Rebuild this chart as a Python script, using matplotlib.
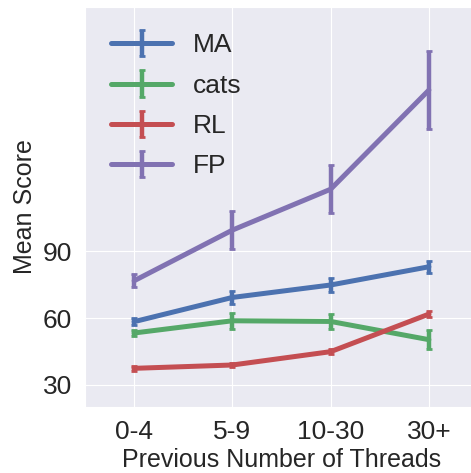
import matplotlib
matplotlib.use("Agg")
import matplotlib.pyplot as plt
import seaborn as sns

categories = ["0-4", "5-9", "10-30", "30+"]
series_names = ["MA", "cats", "RL", "FP"]
ma_mean = [58.4, 69.3, 74.9, 83.1]
ma_err = [1.5, 3.1, 3.0, 2.6]
cats_mean = [53.3, 58.8, 58.5, 50.3]
cats_err = [1.5, 3.7, 3.5, 4.3]
rl_mean = [37.4, 38.9, 44.9, 61.8]
rl_err = [1.0, 1.0, 1.0, 1.5]
fp_mean = [76.8, 99.6, 118.0, 162.6]
fp_err = [3.0, 8.6, 10.9, 17.5]
colors = ["#4C72B0", "#55A868", "#C44E52", "#8172B2"]

sns.set_style("darkgrid")
plt.rcParams['font.family'] = ['Liberation Sans', 'DejaVu Sans']

dpi = 100
fig = plt.figure(dpi=dpi, figsize=(471 / dpi, 473 / dpi))
ax = fig.add_axes([85 / 471, 66 / 473, 393 / 471, 400 / 473])

x = list(range(len(categories)))
means = [ma_mean, cats_mean, rl_mean, fp_mean]
errs = [ma_err, cats_err, rl_err, fp_err]
for name, m, e, c in zip(series_names, means, errs, colors):
    ax.errorbar(x, m, yerr=e, label=name, color=c, lw=3.6,
                elinewidth=3.2, capsize=2.5, capthick=2)

ax.set_xlim(-0.5, 3.5)
ax.set_ylim(20, 200)
ax.set_yticks([30, 60, 90])
ax.set_xticks(x)
ax.set_xticklabels(categories)
ax.tick_params(labelsize=19, colors="#262626", pad=6)
ax.set_xlabel("Previous Number of Threads", fontsize=18, color="#262626", labelpad=3)
ax.set_ylabel("Mean Score", fontsize=18, color="#262626")
ax.legend(loc="upper left", fontsize=19, frameon=False, handlelength=2.3,
          labelspacing=0.62, borderaxespad=0.6)

fig.savefig("out.png", dpi=dpi)
